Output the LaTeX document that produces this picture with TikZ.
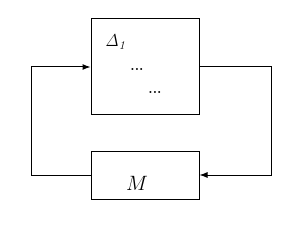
\documentclass[tikz,border=0pt]{standalone}
\usepackage{tikz}
\usetikzlibrary{arrows.meta,positioning}
\tikzset{
  block/.style={draw=black, line width=1pt, fill=white, inner sep=0pt},
  edge/.style={line width=1pt, -{Latex[length=8pt,width=6pt]}},
  label/.style={inner sep=0pt},
  dotlab/.style={label, font=\fontsize{14}{16}\selectfont\bfseries}
}
\begin{document}
\begin{tikzpicture}[x=1pt,y=1pt]
\path[use as bounding box] (0,0) rectangle (308,244);
\fill[white] (0,0) rectangle (308,244);

% upper block with the uncertainty
\node[block, minimum width=108pt, minimum height=96pt] (unc) at (145,177) {};
\node[label, font=\fontsize{17}{20}\selectfont] (delta) at (116,202) {$\mathit{\Delta}_{\mathit{1}}$};
\node[dotlab] (dotsA) at (137,175) {...};
\node[dotlab] (dotsB) at (155,152) {...};

% lower block
\node[block, minimum width=108pt, minimum height=48pt] (plant) at (145,69) {};
\node[label, font=\fontsize{20}{24}\selectfont] (mlab) at (137,61) {$M$};

\coordinate (rgt) at (271,177);
\coordinate (lft) at (31,69);
\draw[edge] (unc.east) -- (rgt) |- (plant.east);
\draw[edge] (plant.west) -- (lft) |- (unc.west);
\end{tikzpicture}
\end{document}
